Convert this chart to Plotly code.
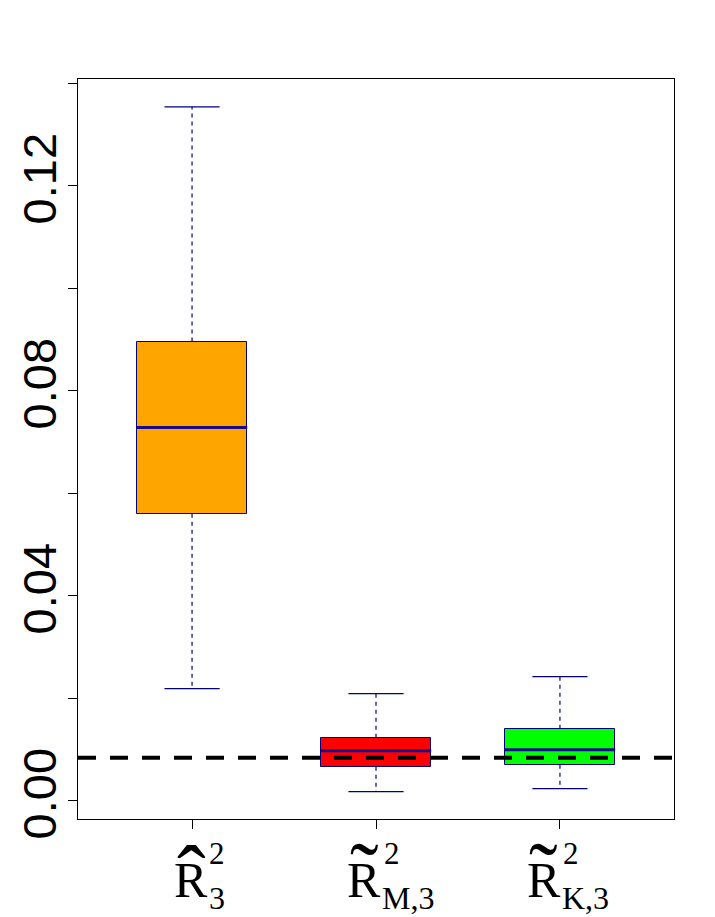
import plotly.graph_objects as go

# ---- data ----
categories = [1, 2, 3]
q1 = [0.0560, 0.00663, 0.00702]
median = [0.0728, 0.00976, 0.00995]
q3 = [0.0896, 0.0123, 0.01405]
whisk_lo = [0.02185, 0.00176, 0.00234]
whisk_hi = [0.1354, 0.0209, 0.0242]
ref_value = 0.00839
fills = ["#FFA500", "#FF0000", "#00FF00"]
ytick_vals = [0.00, 0.02, 0.04, 0.06, 0.08, 0.10, 0.12, 0.14]
ytick_text = ["0.00", "", "0.04", "", "0.08", "", "0.12", ""]
lab_base = ["R", "R", "R"]
lab_accent = ["ˆ", "˜", "˜"]
lab_sup = ["2", "2", "2"]
lab_sub = ["3", "M,3", "K,3"]

BOXW = 0.6
CAPW = 0.3
BORDER = "#000080"
MEDCOL = "#1a0a8c"

fig = go.Figure()

# boxes
fig.add_trace(go.Bar(
    x=categories, base=q1, y=[b - a for a, b in zip(q1, q3)], width=BOXW,
    marker=dict(color=fills, line=dict(color=BORDER, width=1)),
    hoverinfo="skip", showlegend=False))

# whiskers (dashed), caps, medians
wx, wy, cx, cy, mx, my = [], [], [], [], [], []
for i, c in enumerate(categories):
    wx += [c, c, None, c, c, None]
    wy += [q3[i], whisk_hi[i], None, q1[i], whisk_lo[i], None]
    cx += [c - CAPW / 2, c + CAPW / 2, None, c - CAPW / 2, c + CAPW / 2, None]
    cy += [whisk_hi[i], whisk_hi[i], None, whisk_lo[i], whisk_lo[i], None]
    mx += [c - BOXW / 2, c + BOXW / 2, None]
    my += [median[i], median[i], None]

fig.add_trace(go.Scatter(x=wx, y=wy, mode="lines",
                         line=dict(color=BORDER, width=1.2, dash="4px,4px"),
                         hoverinfo="skip", showlegend=False))
fig.add_trace(go.Scatter(x=cx, y=cy, mode="lines",
                         line=dict(color=BORDER, width=1.3),
                         hoverinfo="skip", showlegend=False))
fig.add_trace(go.Scatter(x=mx, y=my, mode="lines",
                         line=dict(color=MEDCOL, width=3),
                         hoverinfo="skip", showlegend=False))

# reference dashed line
fig.add_shape(type="line", xref="paper", x0=0, x1=1, yref="y",
              y0=ref_value, y1=ref_value, layer="above",
              line=dict(color="black", width=4, dash="18px,14px"))

# x labels built from text pieces
base_shift = [-1, -12, -16]
sup_shift = [15, 6, 1]
sub_shift = [15, 4, 0]
accent_y = [-58, -55, -55]
serif = "Liberation Serif"
for i, c in enumerate(categories):
    fig.add_annotation(x=c, xref="x", y=0, yref="paper", text=lab_base[i],
                       showarrow=False, xanchor="center", yanchor="middle",
                       xshift=base_shift[i], yshift=-61,
                       font=dict(family=serif, size=50, color="black"))
    fig.add_annotation(x=c, xref="x", y=0, yref="paper", text=lab_accent[i],
                       showarrow=False, xanchor="center", yanchor="middle",
                       xshift=base_shift[i], yshift=accent_y[i],
                       font=dict(family=serif, size=86, color="black"))
    fig.add_annotation(x=c, xref="x", y=0, yref="paper", text=lab_sup[i],
                       showarrow=False, xanchor="left", yanchor="middle",
                       xshift=sup_shift[i], yshift=-34,
                       font=dict(family=serif, size=31, color="black"))
    fig.add_annotation(x=c, xref="x", y=0, yref="paper", text=lab_sub[i],
                       showarrow=False, xanchor="left", yanchor="middle",
                       xshift=sub_shift[i], yshift=-79,
                       font=dict(family=serif, size=32, color="black"))

# the page body has an 8px margin; size the figure so it fits the window
fig.update_layout(
    width=707, height=909,
    margin=dict(l=70, r=41, t=71, b=98, pad=0),
    paper_bgcolor="white", plot_bgcolor="white",
    bargap=0, showlegend=False,
    xaxis=dict(range=[0.38, 3.62], tickvals=categories, ticktext=["", "", ""],
               ticks="outside", ticklen=9, tickcolor="black", tickwidth=1,
               showgrid=False, zeroline=False, showline=True, mirror=True,
               linecolor="black", linewidth=1, automargin=False),
    yaxis=dict(range=[-0.00357, 0.14082], tickvals=ytick_vals, ticktext=ytick_text,
               tickangle=-90, ticks="outside", ticklen=9, tickcolor="black",
               tickwidth=1, tickfont=dict(family="Liberation Sans", size=47, color="black"),
               ticklabelstandoff=-7, automargin=False,
               showgrid=False, zeroline=False, showline=True, mirror=True,
               linecolor="black", linewidth=1),
)

fig.write_html("out.html")
